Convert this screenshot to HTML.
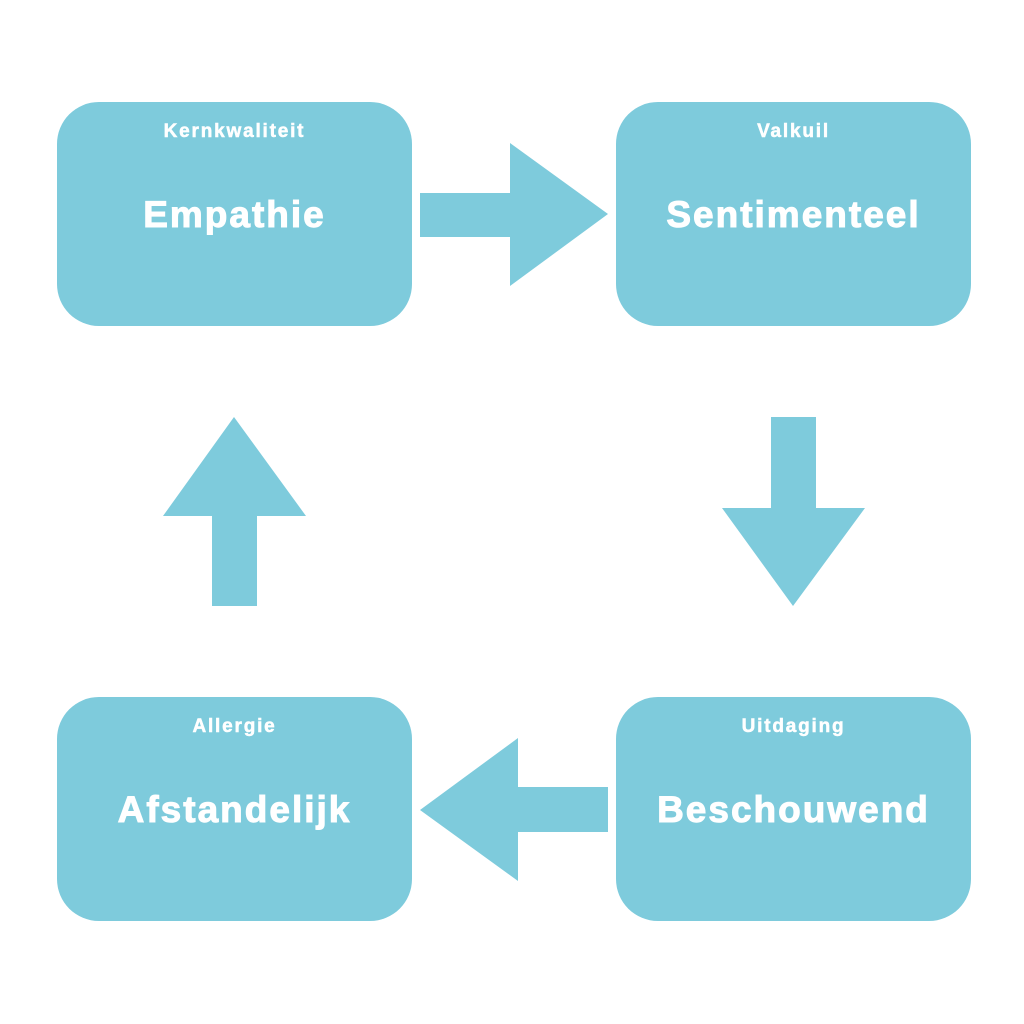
<!DOCTYPE html>
<html><head><meta charset="utf-8"><style>
html,body{margin:0;padding:0;background:#fff;}
body{width:1024px;height:1024px;position:relative;overflow:hidden;font-family:"Liberation Sans",sans-serif;}
.b{position:absolute;width:355px;height:224px;background:#7ecbdc;border-radius:42px;color:#fff;text-align:center;}
.s{position:absolute;left:0;right:0;top:19px;font-size:19px;font-weight:bold;letter-spacing:1.8px;-webkit-text-stroke:0.5px #fff;}
.l{position:absolute;left:0;right:0;top:92px;font-size:37px;font-weight:bold;letter-spacing:2px;-webkit-text-stroke:1px #fff;}
svg{position:absolute;left:0;top:0;}
</style></head><body>
<div class="b" style="left:57px;top:102px"><div class="s">Kernkwaliteit</div><div class="l">Empathie</div></div>
<div class="b" style="left:616px;top:102px"><div class="s">Valkuil</div><div class="l">Sentimenteel</div></div>
<div class="b" style="left:57px;top:697px"><div class="s">Allergie</div><div class="l">Afstandelijk</div></div>
<div class="b" style="left:616px;top:697px"><div class="s">Uitdaging</div><div class="l">Beschouwend</div></div>
<svg width="1024" height="1024" fill="#7ecbdc">
<polygon points="420,193 510,193 510,143 608,214 510,286 510,237 420,237"/>
<polygon points="771,417 816,417 816,508 865,508 793,606 722,508 771,508"/>
<polygon points="608,787 518,787 518,738 420,810 518,881 518,832 608,832"/>
<polygon points="212,606 257,606 257,516 306,516 234,417 163,516 212,516"/>
</svg>
</body></html>
